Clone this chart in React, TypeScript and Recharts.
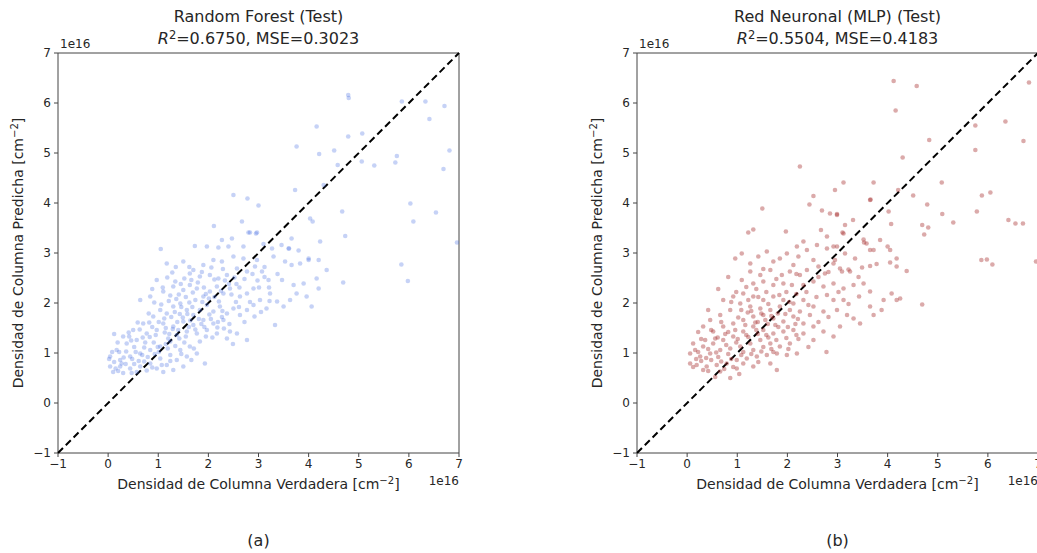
import React from 'react';
import { ScatterChart, Scatter, XAxis, YAxis, ReferenceLine, ReferenceArea } from 'recharts';

// values in units of 1e16 cm^-2 : [true, predicted]
const rfPoints: [number, number][] = [
  [4.79, 6.16], [4.8, 6.1], [5.86, 6.03], [6.33, 6.03], [6.71, 5.94], [6.41, 5.68], [4.16, 5.53], [4.79, 5.33],
  [5.07, 5.39], [3.76, 5.13], [4.21, 4.98], [4.51, 5.05], [6.81, 5.05], [5.76, 4.94], [5.73, 4.81], [4.58, 4.76],
  [5.06, 4.83], [5.31, 4.75], [6.69, 4.68], [3.73, 4.26], [4.3, 4.36], [3.0, 3.95], [6.03, 3.99], [6.54, 3.81],
  [4.67, 3.83], [6.09, 3.63], [4.03, 3.69], [4.08, 3.63], [4.73, 3.34], [4.23, 3.23], [3.66, 3.29], [3.1, 3.18],
  [6.96, 3.21], [3.46, 3.16], [2.97, 3.41], [2.83, 3.41], [3.6, 3.09], [3.8, 3.05], [4.0, 2.89], [3.3, 2.93],
  [5.85, 2.77], [5.98, 2.44], [4.69, 2.41], [2.5, 4.16], [2.78, 4.09],
  [2.67, 3.63], [2.11, 3.54], [2.8, 3.41], [2.95, 3.39], [1.05, 3.08], [1.73, 3.14], [1.97, 3.13], [2.2, 3.11],
  [2.4, 3.13], [2.7, 3.13], [2.27, 3.26], [2.47, 3.29], [3.27, 3.09], [3.61, 3.09],
  [1.17, 2.79], [1.5, 2.83], [1.7, 2.66], [1.9, 2.76], [2.1, 2.86], [2.27, 2.83], [2.5, 2.93], [2.7, 2.89],
  [2.97, 2.86], [3.53, 2.83], [3.66, 2.76], [3.83, 2.79], [4.0, 2.86], [4.2, 2.86], [4.36, 2.66],
  [0.97, 2.46], [1.34, 2.43], [1.63, 2.59], [1.83, 2.53], [2.03, 2.56], [2.2, 2.49], [2.37, 2.56], [2.57, 2.69],
  [2.77, 2.63], [2.93, 2.73], [3.07, 2.63], [3.2, 2.46], [3.47, 2.46], [3.7, 2.36], [3.9, 2.39], [4.16, 2.49],
  [4.2, 2.29], [3.76, 2.19], [3.96, 2.13], [3.63, 2.06],
  [0.64, 2.06], [0.84, 2.13], [1.1, 2.23], [1.3, 2.33], [1.5, 2.26], [1.63, 2.36], [1.77, 2.29], [1.9, 2.13],
  [2.03, 2.23], [2.17, 2.33], [2.3, 2.19], [2.43, 2.29], [2.63, 2.13], [2.77, 2.19], [2.9, 2.29], [3.03, 2.06],
  [3.23, 2.19], [3.37, 2.03], [3.5, 1.93], [3.16, 1.89], [2.9, 1.96], [2.77, 1.86], [4.06, 1.93], [3.33, 1.56],
  [2.77, 1.26], [2.43, 1.43], [1.93, 0.79],
  [0.3, 1.33], [0.5, 1.46], [0.7, 1.59], [0.9, 1.73], [1.04, 1.86], [1.17, 1.79], [1.3, 1.93], [1.44, 1.99],
  [1.57, 1.86], [1.7, 1.76], [1.83, 1.86], [1.97, 1.96], [2.1, 1.83], [2.23, 1.93], [2.37, 1.79], [2.5, 1.89],
  [2.63, 1.76], [2.3, 1.66], [2.1, 1.59], [1.9, 1.66], [1.7, 1.56], [1.5, 1.63], [1.3, 1.53], [1.1, 1.59],
  [0.97, 1.46], [0.77, 1.39], [0.57, 1.26], [0.37, 1.19], [0.17, 1.06], [0.04, 0.93], [0.24, 0.86], [0.44, 0.93],
  [0.64, 0.99], [0.84, 1.06], [1.04, 1.13], [1.24, 1.23], [1.37, 1.36], [1.57, 1.43], [1.77, 1.39], [1.97, 1.46],
  [2.17, 1.39], [2.37, 1.29], [2.57, 1.39], [1.83, 1.23], [1.63, 1.13], [1.44, 1.06], [1.24, 0.96], [1.04, 0.89],
  [0.84, 0.79], [0.64, 0.73], [0.44, 0.69], [0.24, 0.73], [0.04, 0.73], [0.1, 0.62], [0.3, 0.6], [0.57, 0.62],
  [0.77, 0.65], [0.97, 0.69], [1.17, 0.76], [1.37, 0.86], [1.57, 0.93], [1.77, 0.99], [1.5, 0.73], [1.3, 0.66],
  [1.1, 0.62],
  [1.21, 2.04], [1.41, 2.17], [1.62, 2.01], [1.79, 2.41], [2.01, 2.09], [2.21, 2.03], [2.41, 2.38], [1.49, 1.71],
  [1.33, 1.82], [1.12, 1.69], [0.88, 1.52], [0.69, 1.31], [0.52, 1.12], [0.31, 0.91], [0.19, 1.21], [0.12, 0.82],
  [0.61, 0.84], [0.79, 0.92], [1.01, 1.02], [1.19, 1.09], [1.42, 1.29], [1.61, 1.52], [1.81, 1.68], [2.02, 1.77],
  [2.19, 1.62], [2.42, 1.58], [2.61, 1.92], [2.83, 2.02], [3.01, 2.31], [3.12, 2.52], [2.88, 2.58], [2.52, 2.51],
  [2.29, 2.68], [2.12, 2.47], [1.91, 2.31], [1.69, 2.21], [1.52, 2.49], [1.28, 2.61], [1.09, 2.31], [0.92, 2.01],
  [0.81, 1.79], [0.59, 1.61], [0.41, 1.41], [0.22, 1.02], [0.48, 0.88], [0.72, 1.11], [0.91, 1.21], [1.13, 1.41],
  [1.29, 1.48], [1.52, 1.21], [1.71, 1.09], [1.92, 1.52], [2.08, 1.31], [2.31, 1.49], [2.49, 1.18], [1.38, 1.62],
  [1.58, 1.78], [1.22, 1.38], [1.01, 1.62], [0.83, 1.32], [1.68, 1.92], [1.88, 2.02], [2.12, 2.12], [1.46, 1.92],
  [1.26, 1.72], [2.28, 1.84], [0.12, 1.38], [0.42, 1.33], [0.35, 0.78], [0.68, 0.96], [0.15, 0.69], [0.02, 0.88],
  [1.18, 2.51], [1.35, 2.72], [0.88, 2.28], [1.62, 2.72], [2.62, 2.31], [2.72, 2.48], [2.98, 2.45], [3.21, 2.31],
  [3.38, 2.58], [3.12, 2.72], [2.55, 2.02], [2.72, 1.62], [2.92, 1.73], [3.05, 1.82], [3.22, 2.04],
  [1.36, 2.08], [1.55, 2.12], [1.74, 2.06], [1.95, 2.18], [2.25, 2.24], [2.46, 2.17], [1.43, 1.78], [1.64, 1.65],
  [1.86, 1.58], [2.05, 1.68], [2.27, 1.72], [1.15, 1.5], [0.95, 1.36], [0.74, 1.21], [0.55, 1.02], [0.36, 1.03],
  [0.27, 0.79], [0.52, 0.78], [0.72, 0.83], [0.93, 0.98], [1.15, 1.18], [1.34, 1.14], [1.55, 1.33], [1.74, 1.47],
  [1.95, 1.33], [2.18, 1.51], [1.06, 1.97], [1.24, 2.15], [1.45, 2.38], [1.66, 2.46], [1.87, 2.62], [2.06, 2.71],
  [2.33, 2.45], [2.56, 2.38], [0.82, 1.61], [0.63, 1.47], [0.46, 1.25], [0.08, 1.02], [0.2, 0.64], [0.47, 0.6],
  [0.88, 0.71], [1.07, 0.76], [1.24, 0.84], [1.46, 0.98], [1.66, 0.86], [1.4, 1.46], [1.2, 1.29], [0.99, 1.12],
];

const mlpPoints: [number, number][] = [
  [4.12, 6.44], [4.58, 6.34], [4.16, 5.85], [6.82, 6.41], [4.83, 5.26], [5.75, 5.55], [6.35, 5.63], [6.71, 5.24],
  [5.75, 5.06], [4.3, 4.91], [3.12, 4.41], [2.95, 4.26], [3.72, 4.41], [5.08, 4.41], [3.66, 4.07], [4.21, 4.26],
  [4.51, 4.15], [5.88, 4.15], [6.05, 4.21], [4.79, 3.97], [2.99, 3.78], [4.02, 3.83], [5.78, 3.83], [5.09, 3.78],
  [5.31, 3.61], [6.41, 3.66], [6.55, 3.59], [6.7, 3.59], [3.31, 3.66], [3.15, 3.56], [4.07, 3.58], [4.69, 3.56],
  [4.81, 3.51], [4.73, 3.37], [3.1, 3.41], [3.52, 3.27], [3.53, 3.21], [3.85, 3.26], [4.0, 3.13], [3.65, 3.06],
  [2.92, 3.13], [6.96, 2.83], [5.87, 2.86], [5.98, 2.87], [6.09, 2.77], [4.05, 2.81], [4.18, 2.73], [4.38, 2.64],
  [3.78, 2.78], [3.65, 2.74], [3.49, 2.71], [3.22, 2.67], [2.95, 2.86], [3.09, 2.63], [4.25, 2.09], [4.69, 1.97],
  [2.25, 4.73], [2.52, 4.14], [2.44, 3.97], [1.5, 3.89],
  [2.69, 3.85], [2.85, 3.79], [2.99, 3.76], [3.65, 4.06], [1.22, 3.41], [1.32, 3.47], [1.97, 3.43], [2.67, 3.46],
  [2.79, 3.33], [3.12, 3.39], [3.58, 3.19], [3.72, 3.06], [4.05, 3.06], [4.18, 2.89],
  [2.32, 3.23], [2.19, 3.13], [2.39, 3.06], [2.59, 3.16], [2.79, 3.09], [2.99, 3.13], [3.15, 2.99], [3.35, 2.89],
  [3.25, 2.63], [3.05, 2.69], [2.92, 2.79],
  [0.96, 2.89], [1.09, 2.99], [1.26, 2.79], [1.42, 2.93], [1.59, 3.03], [1.72, 2.83], [1.85, 2.89], [1.99, 2.99],
  [2.12, 2.76], [2.22, 2.93], [2.52, 2.86], [2.62, 2.73], [2.75, 2.59], [2.39, 2.66], [2.25, 2.56], [2.05, 2.63],
  [1.89, 2.56], [1.66, 2.66], [1.46, 2.56], [1.26, 2.63], [1.09, 2.46], [1.32, 2.39], [1.52, 2.43], [1.72, 2.36],
  [1.92, 2.39], [2.09, 2.36], [2.32, 2.36], [2.52, 2.43], [2.72, 2.33], [2.92, 2.39], [3.12, 2.29], [3.32, 2.36],
  [3.52, 2.39], [3.65, 2.23], [3.43, 2.13], [3.12, 2.06], [2.92, 2.06], [2.79, 2.16], [2.99, 1.86], [3.19, 1.76],
  [3.32, 1.69], [3.65, 1.93], [3.92, 2.06], [4.08, 2.19], [3.88, 1.86], [4.18, 2.06], [3.72, 1.76], [3.45, 1.59],
  [3.05, 1.53], [2.92, 1.33], [2.72, 1.43], [2.52, 1.53],
  [0.72, 2.06], [0.92, 2.13], [1.12, 2.19], [1.32, 2.13], [1.52, 2.06], [1.72, 2.13], [1.92, 2.06], [2.12, 1.99],
  [2.32, 2.06], [2.52, 1.93], [2.72, 1.83], [2.45, 1.76], [2.25, 1.83], [2.05, 1.86], [1.85, 1.93], [1.66, 1.86],
  [1.46, 1.89], [1.26, 1.93], [1.06, 1.99], [0.86, 1.86], [0.66, 1.76], [0.46, 1.66], [0.32, 1.53], [0.52, 1.43],
  [0.72, 1.53], [0.92, 1.59], [1.12, 1.66], [1.32, 1.73], [1.52, 1.76], [1.72, 1.69], [1.92, 1.63], [2.12, 1.73],
  [2.32, 1.59], [2.52, 1.26], [2.32, 1.39], [2.12, 1.46], [1.92, 1.43], [1.72, 1.39], [1.52, 1.46], [1.32, 1.53],
  [1.12, 1.43], [0.92, 1.33], [0.72, 1.26], [0.52, 1.19], [0.32, 1.13], [0.12, 1.19], [0.06, 0.99], [0.26, 0.93],
  [0.46, 0.99], [0.66, 1.06], [0.86, 1.09], [1.06, 1.13], [1.26, 1.19], [1.46, 1.26], [1.66, 1.19], [1.85, 1.13],
  [2.05, 1.19], [2.19, 0.99], [1.99, 0.96], [1.79, 0.99], [1.59, 0.96], [1.39, 0.93], [1.19, 0.89], [0.99, 0.86],
  [0.79, 0.79], [0.59, 0.76], [0.39, 0.73], [0.19, 0.76], [0.06, 0.79], [0.32, 0.66], [0.66, 0.63], [0.99, 0.69],
  [1.32, 0.73], [1.66, 0.79], [1.79, 0.66], [0.86, 0.5], [0.56, 0.52],
  [1.02, 1.71], [1.21, 1.81], [1.41, 1.62], [1.61, 1.58], [1.81, 1.79], [2.01, 1.52], [2.21, 1.68], [0.82, 1.42],
  [0.61, 1.31], [1.01, 1.28], [1.22, 1.32], [1.41, 1.38], [1.62, 1.31], [1.82, 1.52], [0.42, 1.08], [0.22, 1.02],
  [0.62, 0.92], [0.82, 0.98], [1.12, 1.02], [1.32, 1.06], [1.52, 1.12], [1.72, 1.02], [0.92, 0.72], [1.12, 0.79],
  [1.42, 0.82], [0.48, 0.86], [0.28, 0.84], [0.12, 0.72], [1.58, 2.22], [1.38, 2.28], [1.18, 2.32], [0.98, 2.22],
  [1.78, 2.48], [1.98, 2.22], [2.18, 2.18], [2.38, 2.22], [2.58, 2.12], [2.18, 2.58], [2.42, 1.96], [2.62, 1.62],
  [2.82, 1.72], [2.62, 2.52], [2.82, 2.62], [1.52, 2.68], [0.82, 2.52], [0.62, 2.28], [0.42, 1.86], [0.22, 1.42],
  [2.02, 1.08], [2.22, 1.28], [2.42, 1.12], [3.02, 2.22], [3.22, 1.98], [2.78, 1.02], [3.42, 2.52],
  [1.16, 1.56], [1.36, 1.61], [1.56, 1.66], [1.76, 1.56], [1.96, 1.78], [2.16, 1.58], [0.96, 1.46], [0.76, 1.38],
  [0.56, 1.29], [0.36, 1.26], [0.16, 1.06], [0.38, 0.9], [0.58, 1.01], [0.78, 1.16], [0.98, 1.21], [1.18, 1.36],
  [1.38, 1.46], [1.58, 1.36], [1.78, 1.26], [1.98, 1.3], [2.18, 1.36], [1.08, 0.96], [0.88, 0.88], [0.68, 0.83],
  [1.28, 0.98], [1.48, 1.03], [1.68, 1.08], [0.18, 0.88], [0.42, 0.64], [0.74, 0.68], [1.04, 0.58], [1.22, 2.06],
  [1.42, 2.12], [1.62, 1.98], [1.84, 2.16], [2.04, 2.02], [0.88, 2.02], [1.08, 1.86], [1.28, 1.84], [1.48, 1.79],
  [1.68, 1.74], [0.68, 1.62], [0.48, 1.46], [0.28, 1.28],
];

const axisTicks = [-1, 0, 1, 2, 3, 4, 5, 6, 7];
const domain: [number, number] = [-1, 7];

const FONT = '"DejaVu Sans", sans-serif';
const TEXT = '#262626';

const fmt = (v: number) => (v < 0 ? `\u2212${Math.abs(v)}` : `${v}`);

const Sup = ({ children }: { children: React.ReactNode }) => (
  <span style={{ fontSize: '0.72em', position: 'relative', top: '-0.45em' }}>{children}</span>
);

interface PanelProps {
  left: number;
  points: [number, number][];
  color: string;
  opacity: number;
  title: string;
  r2: string;
  mse: string;
  letter: string;
}

const W = 520;
const H = 553;
const PLOT_L = 58;
const PLOT_R = 459;
const PLOT_T = 53;
const PLOT_B = 453;

const Panel: React.FC<PanelProps> = ({ left, points, color, opacity, title, r2, mse, letter }) => {
  const data = points.map(([x, y]) => ({ x, y }));
  const cx = (PLOT_L + PLOT_R) / 2;
  const tickStyle = { fontSize: 12, fill: TEXT, fontFamily: FONT };
  return (
    <div style={{ position: 'absolute', left, top: 0, width: W, height: H }}>
      <ScatterChart
        width={W}
        height={H}
        margin={{ top: PLOT_T, right: W - PLOT_R, bottom: H - PLOT_B - 30, left: 0 }}
      >
        <XAxis
          type="number"
          dataKey="x"
          domain={domain}
          ticks={axisTicks}
          tickFormatter={fmt}
          allowDataOverflow
          height={30}
          axisLine={false}
          tickSize={4}
          tickMargin={2}
          tickLine={{ stroke: '#444' }}
          tick={tickStyle}
          interval={0}
        />
        <YAxis
          type="number"
          dataKey="y"
          domain={domain}
          ticks={axisTicks}
          tickFormatter={fmt}
          allowDataOverflow
          width={PLOT_L}
          axisLine={false}
          tickSize={4}
          tickMargin={3}
          tickLine={{ stroke: '#444' }}
          tick={tickStyle}
          interval={0}
        />
        <ReferenceArea x1={-1} x2={7} y1={-1} y2={7} fill="none" stroke="#444" strokeWidth={1} />
        <Scatter
          data={data}
          isAnimationActive={false}
          shape={(p: any) => <circle cx={p.cx} cy={p.cy} r={2.3} fill={color} fillOpacity={opacity} />}
        />
        <ReferenceLine
          segment={[{ x: -1, y: -1 }, { x: 7, y: 7 }]}
          stroke="#000"
          strokeWidth={2}
          strokeDasharray="7 4"
        />
      </ScatterChart>

      <div style={{ position: 'absolute', left: cx - 220, width: 440, top: 6, textAlign: 'center', fontFamily: FONT, fontSize: 16, color: TEXT, lineHeight: '22px' }}>
        <div>{title}</div>
        <div>
          <i>R</i>
          <Sup>2</Sup>={r2}, MSE={mse}
        </div>
      </div>
      <div style={{ position: 'absolute', left: PLOT_L + 2, top: 37, fontFamily: FONT, fontSize: 12, color: TEXT }}>1e16</div>
      <div style={{ position: 'absolute', right: W - PLOT_R, top: 474, fontFamily: FONT, fontSize: 12, color: TEXT }}>1e16</div>
      <div style={{ position: 'absolute', left: cx - 250, width: 500, top: 476, textAlign: 'center', fontFamily: FONT, fontSize: 14, color: TEXT }}>
        Densidad de Columna Verdadera [cm<Sup>{'\u22122'}</Sup>]
      </div>
      <div
        style={{
          position: 'absolute',
          left: 18,
          top: 253,
          transform: 'translate(-50%, -50%) rotate(-90deg)',
          whiteSpace: 'nowrap',
          fontFamily: FONT,
          fontSize: 14,
          color: TEXT,
        }}
      >
        Densidad de Columna Predicha [cm<Sup>{'\u22122'}</Sup>]
      </div>
      <div style={{ position: 'absolute', left: cx - 50, width: 100, top: 531, textAlign: 'center', fontFamily: FONT, fontSize: 16, color: TEXT }}>
        ({letter})
      </div>
    </div>
  );
};

export default function App() {
  return (
    <div style={{ position: 'absolute', left: 0, top: 0, width: 1037, height: 553, overflow: 'hidden', background: '#fff' }}>
      <Panel left={0} points={rfPoints} color="#4169e1" opacity={0.3} title="Random Forest (Test)" r2="0.6750" mse="0.3023" letter="a" />
      <Panel left={579} points={mlpPoints} color="#a52a2a" opacity={0.4} title="Red Neuronal (MLP) (Test)" r2="0.5504" mse="0.4183" letter="b" />
    </div>
  );
}
